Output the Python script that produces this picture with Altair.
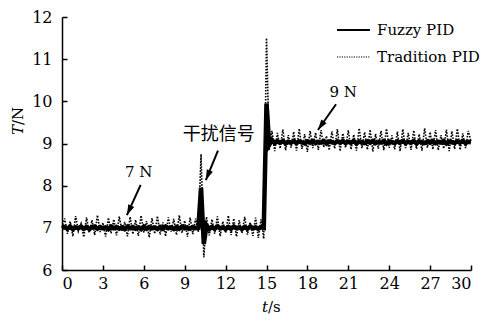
import math
import altair as alt
import pandas as pd

# ---------------- data ----------------
step = 0.2
t_grid = [round(i * step, 1) for i in range(151)]

fuzzy_pid = [
    7.00, 7.02, 6.98, 7.03, 6.97, 7.01, 6.99, 7.03, 6.98, 7.02,
    6.97, 7.01, 7.03, 6.98, 7.02, 6.99, 7.01, 6.97, 7.03, 6.99,
    7.02, 6.98, 7.01, 6.97, 7.03, 6.99, 7.02, 6.98, 7.01, 6.97,
    7.03, 6.98, 7.02, 6.99, 7.01, 6.97, 7.02, 6.98, 7.03, 6.99,
    7.01, 6.97, 7.02, 6.98, 7.03, 6.99, 7.01, 6.98, 7.02, 6.99,
    7.00, 7.95, 6.62, 7.06, 6.97, 7.02, 6.98, 7.03, 6.99, 7.01,
    6.97, 7.02, 6.98, 7.03, 6.99, 7.01, 6.97, 7.02, 6.98, 7.03,
    6.99, 7.01, 6.98, 7.02, 7.00,
    9.95, 8.97, 9.08, 9.01, 9.05, 9.02, 9.06, 9.00, 9.04, 9.02,
    9.06, 9.01, 9.05, 9.03, 9.00, 9.05, 9.02, 9.06, 9.01, 9.04,
    9.02, 9.06, 9.00, 9.05, 9.03, 9.01, 9.05, 9.02, 9.06, 9.01,
    9.04, 9.02, 9.06, 9.00, 9.05, 9.03, 9.01, 9.05, 9.02, 9.06,
    9.01, 9.04, 9.02, 9.06, 9.00, 9.05, 9.03, 9.01, 9.05, 9.02,
    9.06, 9.01, 9.04, 9.02, 9.06, 9.00, 9.05, 9.03, 9.01, 9.05,
    9.02, 9.06, 9.01, 9.04, 9.02, 9.06, 9.00, 9.05, 9.03, 9.01,
    9.05, 9.02, 9.06, 9.01, 9.04, 9.03,
]

tradition_pid = [
    7.00, 7.22, 6.86, 7.15, 6.80, 7.28, 6.92, 7.10, 6.78, 7.25,
    6.88, 7.18, 6.83, 7.30, 6.90, 7.12, 6.79, 7.24, 6.87, 7.20,
    6.82, 7.27, 6.93, 7.14, 6.80, 7.26, 6.85, 7.19, 6.81, 7.29,
    6.89, 7.16, 6.77, 7.23, 6.86, 7.28, 6.84, 7.13, 6.80, 7.25,
    6.91, 7.21, 6.83, 7.30, 6.88, 7.17, 6.79, 7.24, 6.85, 7.22,
    6.90, 8.75, 6.30, 7.26, 6.82, 7.20, 6.86, 7.27, 6.80, 7.15,
    6.88, 7.29, 6.83, 7.22, 6.79, 7.18, 6.87, 7.26, 6.84, 7.13,
    6.81, 7.24, 6.76, 7.20, 6.74,
    11.50, 8.85, 9.30, 8.82, 9.25, 8.88, 9.33, 8.84, 9.20, 8.90,
    9.28, 8.83, 9.35, 8.87, 9.22, 8.80, 9.30, 8.89, 9.26, 8.85,
    9.32, 8.91, 9.18, 8.84, 9.29, 8.88, 9.34, 8.82, 9.24, 8.90,
    9.31, 8.86, 9.21, 8.83, 9.36, 8.89, 9.27, 8.85, 9.33, 8.81,
    9.23, 8.88, 9.30, 8.84, 9.35, 8.90, 9.19, 8.86, 9.28, 8.82,
    9.34, 8.89, 9.25, 8.85, 9.31, 8.87, 9.22, 8.83, 9.36, 8.90,
    9.27, 8.86, 9.32, 8.84, 9.20, 8.88, 9.33, 8.82, 9.29, 8.87,
    9.35, 8.85, 9.24, 8.89, 9.30, 9.05,
]

x_ticks = [0, 3, 6, 9, 12, 15, 18, 21, 24, 27, 30]
y_ticks = [6, 7, 8, 9, 10, 11, 12]

ann_labels = ["7 N", "干扰信号", "9 N"]
ann_is_cjk = [False, True, False]
ann_x = [5.62, 11.50, 20.62]
ann_y = [8.32, 9.20, 10.23]
arrow_tail_x = [5.77, 11.44, 20.10]
arrow_tail_y = [8.02, 8.83, 9.93]
arrow_tip_x = [4.76, 10.55, 18.77]
arrow_tip_y = [7.30, 8.13, 9.32]

legend_labels = ["Fuzzy PID", "Tradition PID"]

# ---------------- layout ----------------
W, H = 409, 253
PX_X = W / 30.0
PX_Y = H / 6.0
FONT = "DejaVu Serif"
CJK = "Noto Sans CJK SC"
FS = 15

xs = alt.Scale(domain=[0, 30], nice=False, zero=False)
ys = alt.Scale(domain=[6, 12], nice=False, zero=False)

df = pd.DataFrame({"t": t_grid, "fuzzy": fuzzy_pid, "trad": tradition_pid})

x_axis = alt.Axis(values=x_ticks, title=None, grid=False, tickSize=alt.ExprRef(expr="-5"),
                  labelPadding=10, format="d")
y_axis = alt.Axis(values=y_ticks, title=None, grid=False, tickSize=alt.ExprRef(expr="-5"),
                  labelPadding=15, format="d")

trad_line = alt.Chart(df).mark_line(
    color="black", strokeWidth=1.6, strokeDash=[1.6, 1.4]
).encode(
    x=alt.X("t:Q", scale=xs, axis=x_axis),
    y=alt.Y("trad:Q", scale=ys, axis=y_axis),
)

fuzzy_line = alt.Chart(df).mark_line(color="black", strokeWidth=4.5).encode(
    x=alt.X("t:Q", scale=xs),
    y=alt.Y("fuzzy:Q", scale=ys),
)

# annotations: arrow direction in screen pixels -> rotation of the head
angles = []
for i in range(3):
    dx = (arrow_tip_x[i] - arrow_tail_x[i]) * PX_X
    dy = -(arrow_tip_y[i] - arrow_tail_y[i]) * PX_Y
    angles.append(math.degrees(math.atan2(dx, -dy)) % 360)

ann_df = pd.DataFrame({
    "label": ann_labels, "cjk": ann_is_cjk, "x": ann_x, "y": ann_y,
    "x1": arrow_tail_x, "y1": arrow_tail_y, "x2": arrow_tip_x, "y2": arrow_tip_y,
    "angle": angles,
})

ann_text_latin = alt.Chart(ann_df[~ann_df["cjk"]]).mark_text(
    font=FONT, fontSize=FS, color="black", baseline="middle", align="center"
).encode(x=alt.X("x:Q", scale=xs), y=alt.Y("y:Q", scale=ys), text="label:N")

ann_text_cjk = alt.Chart(ann_df[ann_df["cjk"]]).mark_text(
    font=CJK, fontSize=18, color="black", baseline="middle", align="center"
).encode(x=alt.X("x:Q", scale=xs), y=alt.Y("y:Q", scale=ys), text="label:N")

arrow_lines = alt.Chart(ann_df).mark_rule(color="black", strokeWidth=2).encode(
    x=alt.X("x1:Q", scale=xs), y=alt.Y("y1:Q", scale=ys),
    x2="x2:Q", y2="y2:Q",
)

ARROW_HEAD = "M0,0L0.65,2.1L-0.65,2.1Z"
arrow_heads = alt.Chart(ann_df).mark_point(
    shape=ARROW_HEAD, filled=True, color="black", opacity=1, size=100, strokeWidth=0
).encode(
    x=alt.X("x2:Q", scale=xs), y=alt.Y("y2:Q", scale=ys),
    angle=alt.Angle("angle:Q", scale=None),
)

# legend (manual)
one = pd.DataFrame({"a": [0]})
leg_solid = alt.Chart(one).mark_rule(color="black", strokeWidth=2.2).encode(
    x=alt.value(275), x2=alt.value(308), y=alt.value(13))
leg_dot = alt.Chart(one).mark_rule(color="black", strokeWidth=1.2, strokeDash=[1.2, 1.2]).encode(
    x=alt.value(275), x2=alt.value(308), y=alt.value(40))
leg_t1 = alt.Chart(one).mark_text(font=FONT, fontSize=FS, align="left", baseline="middle",
                                  color="black", text=legend_labels[0]).encode(
    x=alt.value(315), y=alt.value(13))
leg_t2 = alt.Chart(one).mark_text(font=FONT, fontSize=FS, align="left", baseline="middle",
                                  color="black", text=legend_labels[1]).encode(
    x=alt.value(315), y=alt.value(40))

# axis titles (italic variable + upright unit)
xt_var = alt.Chart(one).mark_text(font=FONT, fontSize=FS, fontStyle="italic", align="right",
                                  baseline="middle", color="black", text="t").encode(
    x=alt.value(206), y=alt.value(290))
xt_unit = alt.Chart(one).mark_text(font=FONT, fontSize=FS, align="left",
                                   baseline="middle", color="black", text="/s").encode(
    x=alt.value(206), y=alt.value(290))
yt_var = alt.Chart(one).mark_text(font=FONT, fontSize=FS, fontStyle="italic", align="right",
                                  baseline="middle", color="black", text="T", angle=270).encode(
    x=alt.value(-44), y=alt.value(108))
yt_unit = alt.Chart(one).mark_text(font=FONT, fontSize=FS, align="left",
                                   baseline="middle", color="black", text="/N", angle=270).encode(
    x=alt.value(-44), y=alt.value(108))

chart = alt.layer(
    trad_line, fuzzy_line, arrow_lines, arrow_heads, ann_text_latin, ann_text_cjk,
    leg_solid, leg_dot, leg_t1, leg_t2, xt_var, xt_unit, yt_var, yt_unit,
).properties(
    width=W, height=H,
    autosize=alt.AutoSizeParams(type="none"),
    padding={"left": 54, "top": 9, "right": 9, "bottom": 46},
    background="white",
).configure_view(stroke=None).configure_axis(
    domainColor="black", domainWidth=1.5, tickColor="black", tickWidth=1.5,
    labelFont=FONT, labelFontSize=16, labelColor="black",
)

chart.save("out.html", embed_options={"renderer": "svg", "actions": False})
